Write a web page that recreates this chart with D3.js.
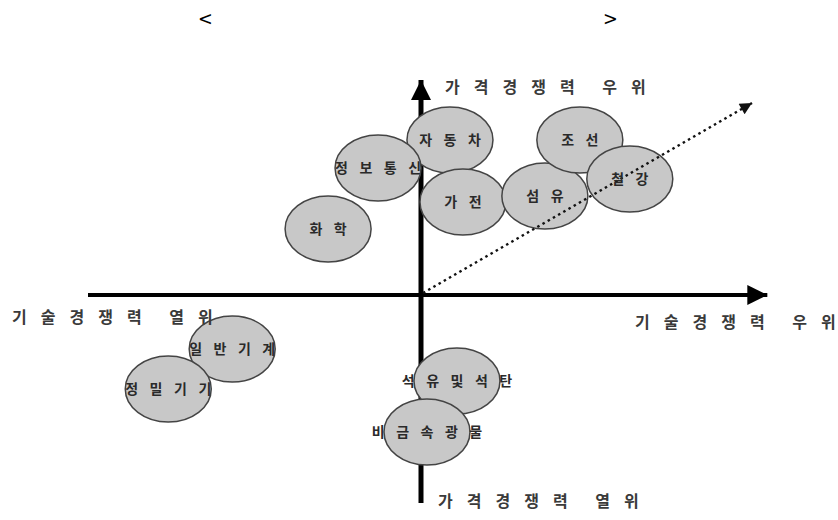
<!DOCTYPE html>
<html>
<head>
<meta charset="utf-8">
<script src="https://cdn.jsdelivr.net/npm/d3@7"></script>
<style>
  body { margin: 0; background: #fff; }
  text { font-family: "Noto Sans CJK KR", "Noto Sans", sans-serif; }
</style>
</head>
<body>
<div id="chart"></div>
<script>
// industries and their position (x: 기술경쟁력, y: 가격경쟁력)
const industries = ["자동차", "정보통신", "가전", "섬유", "조선", "철강", "화학", "일반기계", "정밀기기", "석유및석탄", "비금속광물"];
const techScore = [0.87, -1.29, 1.26, 3.72, 4.77, 6.27, -2.79, -5.67, -7.59, 1.08, 0.18];
const priceScore = [7.75, 6.35, 4.65, 4.95, 7.75, 5.8, 3.3, -2.7, -4.7, -4.3, -6.85];

// axis labels
const axisLabels = ["가격경쟁력 우위", "가격경쟁력 열위", "기술경쟁력 열위", "기술경쟁력 우위"];

const w = 838;
const h = 520;

const svg = d3.select("#chart")
              .append("svg")
              .attr("width", w)
              .attr("height", h);

// scales, origin in the middle of the quadrant map
const xScale = d3.scaleLinear().domain([-10, 10]).range([88, 754]);
const yScale = d3.scaleLinear().domain([-10, 10]).range([495, 95]);

const x0 = xScale(0);
const y0 = yScale(0);

// spaced-out text, without trailing spacing after the last character
const spaced = (sel, ls) => {
    sel.each(function(d) {
        const t = d3.select(this);
        t.append("tspan").attr("letter-spacing", ls).text(d.slice(0, -1));
        t.append("tspan").attr("letter-spacing", 0).text(d.slice(-1));
    });
};

// arrow heads
const defs = svg.append("defs");
defs.append("marker")
    .attr("id", "solidArrow")
    .attr("viewBox", "0 0 10 10")
    .attr("refX", 10)
    .attr("refY", 5)
    .attr("markerUnits", "userSpaceOnUse")
    .attr("markerWidth", 24)
    .attr("markerHeight", 20)
    .attr("orient", "auto")
    .append("path")
    .attr("d", "M0,0 L10,5 L0,10 Z")
    .attr("fill", "#000");
defs.append("marker")
    .attr("id", "dotArrow")
    .attr("viewBox", "0 0 10 10")
    .attr("refX", 10)
    .attr("refY", 5)
    .attr("markerUnits", "userSpaceOnUse")
    .attr("markerWidth", 16)
    .attr("markerHeight", 12)
    .attr("orient", "auto")
    .append("path")
    .attr("d", "M0,0 L10,5 L0,10 Z")
    .attr("fill", "#111");

// title brackets (title text itself is blank in the source)
svg.append("text").attr("x", 199).attr("y", 28).attr("font-size", 23).attr("font-family", "DejaVu Sans").attr("fill", "#000").text("<");
svg.append("text").attr("x", 604).attr("y", 28).attr("font-size", 23).attr("font-family", "DejaVu Sans").attr("fill", "#000").text(">");

// horizontal axis
svg.append("line")
   .attr("x1", xScale(-10)).attr("y1", y0)
   .attr("x2", xScale(10.4)).attr("y2", y0)
   .attr("stroke", "#000")
   .attr("stroke-width", 4)
   .attr("marker-end", "url(#solidArrow)");

// vertical axis
svg.append("line")
   .attr("x1", x0).attr("y1", yScale(-10.4))
   .attr("x2", x0).attr("y2", yScale(10.75))
   .attr("stroke", "#000")
   .attr("stroke-width", 5)
   .attr("marker-end", "url(#solidArrow)");

// industry bubbles
const rows = industries.map((d, i) => ({name: d, x: techScore[i], y: priceScore[i]}));

svg.selectAll("ellipse")
   .data(rows)
   .enter()
   .append("ellipse")
   .attr("cx", d => xScale(d.x))
   .attr("cy", d => yScale(d.y))
   .attr("rx", 43)
   .attr("ry", 33)
   .attr("fill", "#c8c8c8")
   .attr("stroke", "#444")
   .attr("stroke-width", 1.5);

// dotted trend arrow
svg.append("line")
   .attr("x1", x0 + 2).attr("y1", y0 - 2)
   .attr("x2", xScale(9.94)).attr("y2", yScale(9.6))
   .attr("stroke", "#111")
   .attr("stroke-width", 2.5)
   .attr("stroke-dasharray", "2.5,3.5")
   .attr("marker-end", "url(#dotArrow)");

// bubble labels
svg.selectAll(".label")
   .data(rows)
   .enter()
   .append("text")
   .attr("class", "label")
   .attr("x", d => xScale(d.x))
   .attr("y", d => yScale(d.y))
   .attr("dy", "0.36em")
   .attr("text-anchor", "middle")
   .attr("font-size", 14)
   .attr("font-weight", "bold")
   .attr("fill", "#2a2a2a")
   .datum(d => d.name)
   .call(spaced, 11.5);

// quadrant labels
const labelPos = [[445, 93], [438, 507], [12, 323], [635, 328]];
svg.selectAll(".axis-label")
   .data(axisLabels)
   .enter()
   .append("text")
   .attr("class", "axis-label")
   .attr("x", (d, i) => labelPos[i][0])
   .attr("y", (d, i) => labelPos[i][1])
   .attr("font-size", 16)
   .attr("font-weight", "bold")
   .attr("word-spacing", -4)
   .attr("fill", "#3a3a3a")
   .call(spaced, 14);
</script>
</body>
</html>
